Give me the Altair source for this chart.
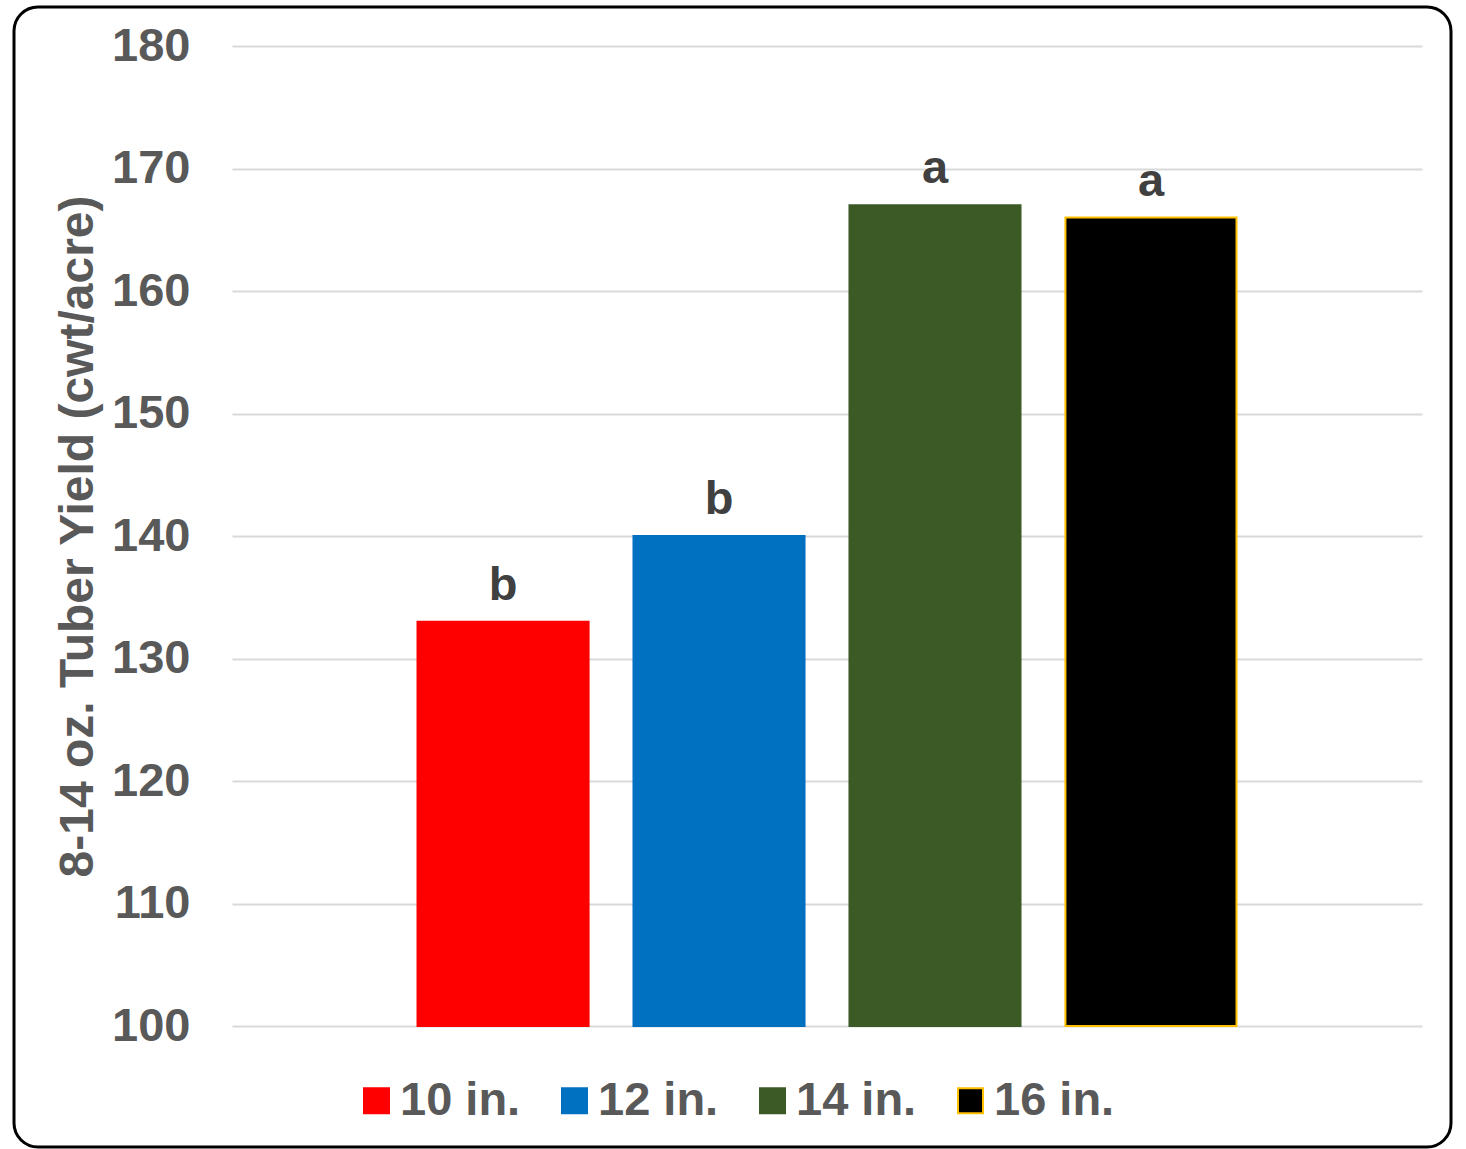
import altair as alt
import pandas as pd

sizes = ["10 in.", "12 in.", "14 in.", "16 in."]
yields = [133, 140, 167, 166]
letters = ["b", "b", "a", "a"]
fill_colors = ["#FF0000", "#0070C0", "#3B5A25", "#000000"]
stroke_colors = ["#FF0000", "#0070C0", "#3B5A25", "#FFC000"]
y_ticks = [100, 110, 120, 130, 140, 150, 160, 170, 180]
y_min, y_max = 100, 180

df = pd.DataFrame({"size": sizes, "yield": yields, "letter": letters})

FONT = "Liberation Sans"

x = alt.X("size:N", sort=sizes, axis=None,
          scale=alt.Scale(paddingInner=0.208, paddingOuter=0.859))
y = alt.Y("yield:Q",
          scale=alt.Scale(domain=[y_min, y_max], nice=False, zero=False),
          axis=alt.Axis(values=y_ticks, title="8-14 oz. Tuber Yield (cwt/acre)",
                        grid=True, gridColor="#D9D9D9", gridWidth=2,
                        domain=False, ticks=False, tickSize=0,
                        labelFont=FONT, labelFontSize=47, labelFontWeight="bold",
                        labelColor="#595959", labelPadding=42,
                        titleFont=FONT, titleFontSize=48, titleFontWeight="bold",
                        titleColor="#595959", titleAngle=-90,
                        titleX=-154, titleY=490, titleAlign="center",
                        titleBaseline="middle"))

legend = alt.Legend(title=None, orient="none", legendX=121, legendY=1031,
                    direction="horizontal", symbolType="square", symbolSize=625,
                    symbolStrokeWidth=2, labelFont=FONT, labelFontSize=47,
                    labelFontWeight="bold", labelColor="#595959", labelOffset=0,
                    columnPadding=30, labelLimit=400)

bars = alt.Chart(df).mark_bar(strokeWidth=2).encode(
    x=x, y=y, y2=alt.datum(y_min),
    fill=alt.Fill("size:N", sort=sizes,
                  scale=alt.Scale(domain=sizes, range=fill_colors), legend=legend),
    stroke=alt.Stroke("size:N", sort=sizes,
                      scale=alt.Scale(domain=sizes, range=stroke_colors), legend=legend),
)

labels = alt.Chart(df).mark_text(font=FONT, fontSize=47, fontWeight="bold",
                                 color="#404040", baseline="alphabetic", dy=-22).encode(
    x=x, y="yield:Q", text="letter:N")

frame = alt.Chart(pd.DataFrame({"f": [0]})).mark_rect(
    fillOpacity=0, stroke="black", strokeWidth=3, cornerRadius=24).encode(
    x=alt.value(-218), x2=alt.value(1219), y=alt.value(-39), y2=alt.value(1101))

chart = alt.layer(bars, labels, frame).properties(
    width=1190, height=980,
    padding={"left": 232, "top": 46, "right": 44, "bottom": 123},
    autosize=alt.AutoSizeParams(type="none"),
    background="white",
).configure_view(stroke=None)

chart.save("out.html", embed_options={"renderer": "svg", "actions": False})
